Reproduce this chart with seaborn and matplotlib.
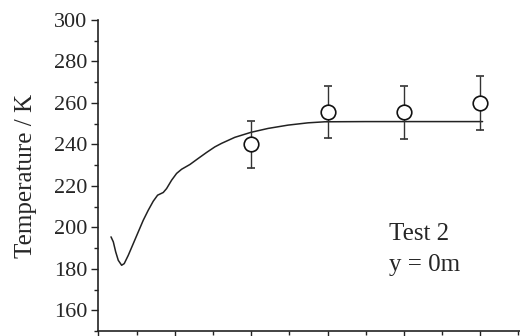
import matplotlib
matplotlib.use("Agg")
import matplotlib.pyplot as plt
import seaborn as sns
import pandas as pd
from matplotlib.ticker import MultipleLocator

# model curve
curve_x = [0.164, 0.194, 0.225, 0.259, 0.303, 0.337, 0.390, 0.455, 0.521, 0.586,
           0.651, 0.717, 0.774, 0.848, 0.892, 0.957, 1.023, 1.088, 1.197, 1.305,
           1.415, 1.524, 1.612, 1.785, 1.995, 2.221, 2.483, 2.744, 2.963, 3.5,
           4.0, 4.5, 5.03]
curve_t = [195.4, 193.0, 188.2, 184.1, 181.7, 182.5, 186.5, 192.1, 197.8, 203.4,
           208.2, 212.6, 215.5, 216.8, 218.7, 222.7, 226.0, 228.0, 230.3, 233.2,
           236.1, 238.8, 240.5, 243.4, 245.8, 247.7, 249.3, 250.4, 250.9, 251.0,
           251.0, 251.0, 251.0]

# measurements
meas_x = [2, 3, 4, 5]
meas_t = [240.0, 255.5, 255.5, 260.0]
meas_err = [11.5, 12.5, 12.8, 13.0]

sns.set_style("ticks")
plt.rcParams['font.family'] = ['Liberation Serif', 'DejaVu Serif']

fig = plt.figure(figsize=(5.2, 3.36), dpi=100)
ax = fig.add_axes([0.1894, 0.0149, 0.8106, 0.9256])

curve = pd.DataFrame({'x': curve_x, 'T': curve_t})
sns.lineplot(data=curve, x='x', y='T', ax=ax, color='#222222', lw=1.1, sort=False)

ax.errorbar(meas_x, meas_t, yerr=meas_err, fmt='o', ms=10.5, mfc='white',
            mec='#111111', mew=1.2, ecolor='#333333', elinewidth=1.0,
            capsize=3, capthick=1.0, zorder=3)

ax.set_xlim(0, 5.52)
ax.set_ylim(150, 300)
ax.yaxis.set_major_locator(MultipleLocator(20))
ax.yaxis.set_minor_locator(MultipleLocator(10))
ax.xaxis.set_major_locator(MultipleLocator(1))
ax.xaxis.set_minor_locator(MultipleLocator(0.5))
ax.tick_params(axis='both', which='major', length=5, width=1.0, color='#222222',
               labelsize=16, pad=3)
ax.tick_params(axis='both', which='minor', length=3, width=1.0, color='#222222')
ax.tick_params(axis='x', labelbottom=False)

for s in ['top', 'right']:
    ax.spines[s].set_visible(False)
for s in ['left', 'bottom']:
    ax.spines[s].set_linewidth(1.2)
    ax.spines[s].set_color('#222222')

ax.set_xlabel('')
ax.set_ylabel('Temperature / K', fontsize=18, labelpad=12)

ax.text(3.81, 193.8, 'Test 2', fontsize=18, va='baseline')
ax.text(3.81, 178.8, 'y = 0m', fontsize=18, va='baseline')

fig.savefig('out.png', dpi=100)
